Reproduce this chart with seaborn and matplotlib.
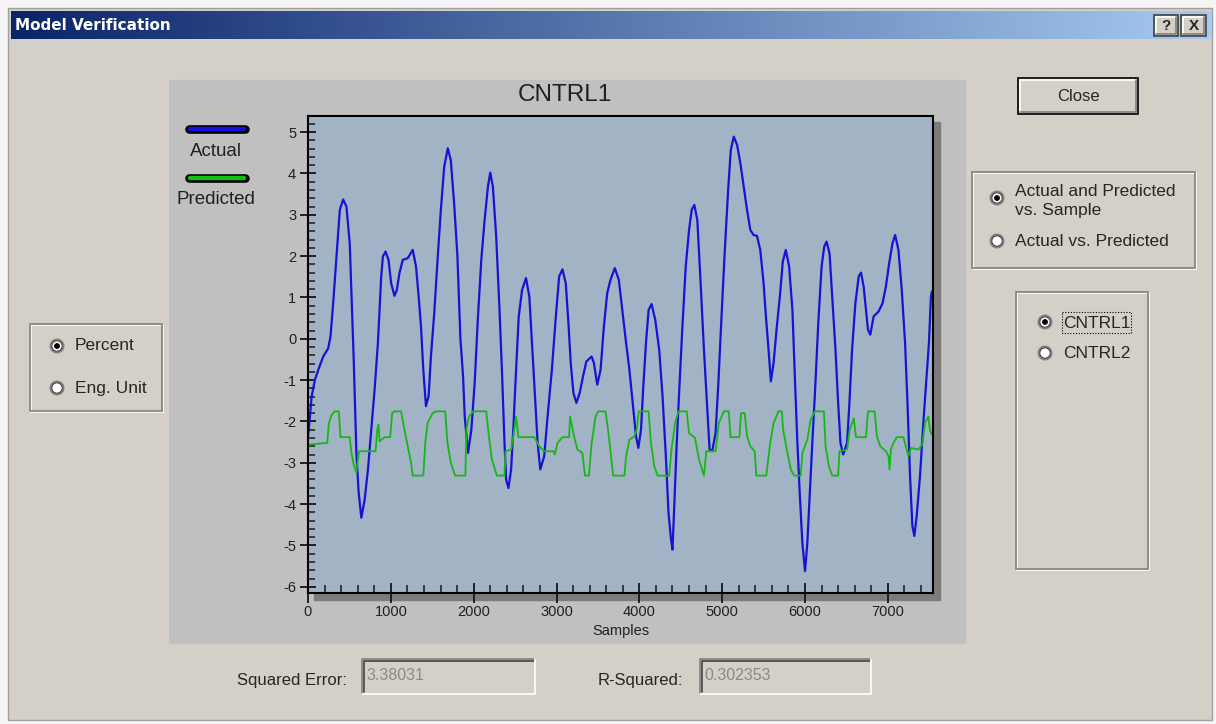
import matplotlib
matplotlib.use("Agg")
import numpy as np
import pandas as pd
import matplotlib.pyplot as plt
import seaborn as sns
from matplotlib.patches import Rectangle, Circle

# values (sample index, value)
actual_samples = [0, 12, 44, 84, 124, 184, 244, 272, 304, 344, 384, 424, 464, 504, 532, 552, 584, 612, 644, 684,
                  724, 764, 804, 844, 864, 884, 904, 936, 972, 1004, 1044, 1072, 1104, 1144, 1204, 1264, 1304, 1336,
                  1364, 1392, 1424, 1456, 1484, 1524, 1564, 1604, 1644, 1688, 1724, 1764, 1804, 1840, 1872, 1892,
                  1932, 1972, 2012, 2052, 2092, 2132, 2172, 2200, 2232, 2272, 2312, 2344, 2372, 2392, 2420, 2452,
                  2480, 2512, 2544, 2584, 2632, 2672, 2704, 2744, 2772, 2804, 2852, 2892, 2944, 2992, 3032, 3072,
                  3112, 3144, 3172, 3204, 3240, 3280, 3320, 3360, 3424, 3452, 3492, 3532, 3572, 3612, 3652, 3704,
                  3752, 3800, 3840, 3880, 3920, 3960, 3988, 4020, 4048, 4080, 4112, 4148, 4192, 4240, 4280, 4320,
                  4352, 4380, 4400, 4420, 4448, 4480, 4520, 4560, 4600, 4632, 4664, 4700, 4740, 4780, 4820, 4848,
                  4880, 4920, 4952, 4992, 5032, 5072, 5104, 5140, 5180, 5220, 5260, 5300, 5340, 5380, 5420, 5460,
                  5500, 5528, 5560, 5588, 5620, 5660, 5700, 5732, 5768, 5808, 5848, 5880, 5908, 5936, 5968, 6000,
                  6028, 6056, 6088, 6120, 6160, 6200, 6232, 6260, 6296, 6328, 6368, 6400, 6428, 6460, 6508, 6536,
                  6568, 6608, 6648, 6676, 6708, 6736, 6760, 6788, 6828, 6888, 6936, 6976, 7016, 7056, 7088, 7128,
                  7168, 7208, 7240, 7268, 7296, 7320, 7348, 7388, 7428, 7468, 7496, 7520, 7530]
actual_values = [-2.35, -2.16, -1.39, -0.99, -0.75, -0.43, -0.23, 0.06, 0.86, 1.99, 3.12, 3.37, 3.20, 2.31, 0.70,
                 -0.51, -2.76, -3.73, -4.33, -3.89, -3.16, -2.20, -1.23, -0.10, 0.70, 1.51, 1.99, 2.11, 1.91, 1.34,
                 1.04, 1.18, 1.59, 1.91, 1.95, 2.15, 1.75, 1.02, 0.30, -0.75, -1.63, -1.39, -0.43, 0.62, 1.91, 3.12,
                 4.16, 4.61, 4.32, 3.28, 1.99, 0.00, -0.91, -1.88, -2.76, -2.20, -1.07, 0.54, 1.91, 2.87, 3.68, 4.02,
                 3.68, 2.47, 0.70, -0.91, -2.52, -3.41, -3.61, -3.16, -2.12, -0.75, 0.54, 1.18, 1.47, 1.02, -0.10,
                 -1.55, -2.52, -3.16, -2.84, -1.88, -0.75, 0.54, 1.51, 1.68, 1.34, 0.38, -0.59, -1.31, -1.55, -1.31,
                 -0.91, -0.55, -0.43, -0.59, -1.11, -0.75, 0.30, 1.10, 1.43, 1.71, 1.43, 0.60, -0.10, -0.75, -1.55,
                 -2.36, -2.64, -2.20, -1.15, -0.10, 0.70, 0.84, 0.46, -0.27, -1.39, -2.84, -4.21, -4.81, -5.10,
                 -4.13, -2.68, -1.31, 0.30, 1.75, 2.63, 3.12, 3.24, 2.87, 1.34, -0.27, -1.71, -2.68, -2.72, -2.28,
                 -1.15, 0.54, 2.15, 3.60, 4.57, 4.89, 4.69, 4.24, 3.68, 3.12, 2.63, 2.51, 2.49, 2.15, 1.34, 0.54,
                 -0.27, -1.03, -0.59, 0.30, 1.10, 1.87, 2.15, 1.75, 0.70, -1.07, -2.52, -3.73, -4.94, -5.62, -4.94,
                 -3.81, -2.52, -1.31, 0.38, 1.75, 2.23, 2.35, 2.07, 1.02, -0.27, -1.55, -2.52, -2.80, -2.52, -1.55,
                 -0.27, 0.86, 1.51, 1.60, 1.26, 0.70, 0.22, 0.10, 0.54, 0.66, 0.86, 1.26, 1.83, 2.31, 2.51, 2.15,
                 1.18, -0.10, -1.71, -3.33, -4.53, -4.77, -4.29, -3.33, -2.04, -0.91, -0.10, 1.02, 1.14]

pred_samples = [0, 232, 252, 284, 324, 372, 392, 504, 524, 552, 584, 616, 816, 836, 852, 864, 924, 992, 1016, 1044,
                1124, 1164, 1204, 1244, 1264, 1392, 1416, 1444, 1504, 1544, 1656, 1684, 1724, 1776, 1900, 1912,
                1944, 1992, 2152, 2184, 2220, 2280, 2372, 2384, 2452, 2472, 2512, 2540, 2732, 2792, 2852, 2964,
                2980, 3012, 3072, 3152, 3164, 3212, 3252, 3312, 3344, 3392, 3424, 3472, 3504, 3592, 3632, 3684,
                3820, 3840, 3880, 3940, 3968, 3992, 4112, 4140, 4180, 4220, 4360, 4388, 4432, 4472, 4572, 4600,
                4672, 4720, 4780, 4808, 4920, 4960, 5020, 5080, 5100, 5208, 5228, 5272, 5300, 5340, 5392, 5412,
                5532, 5580, 5620, 5680, 5720, 5736, 5788, 5828, 5868, 5948, 5968, 6028, 6068, 6120, 6228, 6248,
                6288, 6328, 6400, 6416, 6508, 6540, 6588, 6616, 6736, 6760, 6840, 6868, 6908, 6976, 7008, 7020,
                7036, 7068, 7108, 7188, 7228, 7248, 7280, 7368, 7416, 7448, 7488, 7508, 7530]
pred_values = [-2.56, -2.52, -2.04, -1.84, -1.755, -1.755, -2.38, -2.38, -2.76, -3.04, -3.24, -2.72, -2.72, -2.20,
               -2.08, -2.48, -2.38, -2.38, -1.80, -1.755, -1.755, -2.20, -2.60, -3.00, -3.31, -3.31, -2.52, -2.04,
               -1.80, -1.755, -1.755, -2.52, -3.00, -3.31, -3.31, -2.20, -1.88, -1.755, -1.755, -2.36, -2.92, -3.31,
               -3.31, -2.72, -2.68, -2.44, -1.88, -2.38, -2.38, -2.60, -2.72, -2.72, -2.80, -2.52, -2.38, -2.38,
               -1.88, -2.36, -2.68, -2.76, -3.31, -3.31, -2.52, -1.88, -1.755, -1.755, -2.36, -3.31, -3.31, -2.84,
               -2.44, -2.36, -2.20, -1.755, -1.755, -2.52, -3.08, -3.31, -3.31, -2.68, -2.04, -1.755, -1.755, -2.28,
               -2.40, -2.92, -3.31, -2.72, -2.72, -2.04, -1.755, -1.755, -2.38, -2.38, -1.80, -1.80, -2.36, -2.60,
               -2.72, -3.31, -3.31, -2.52, -2.04, -1.755, -1.755, -2.20, -2.76, -3.16, -3.31, -3.31, -2.76, -2.44,
               -1.96, -1.755, -1.755, -2.60, -3.08, -3.31, -3.31, -2.72, -2.68, -2.20, -1.92, -2.38, -2.38, -1.755,
               -1.755, -2.36, -2.60, -2.72, -2.84, -3.16, -2.68, -2.52, -2.38, -2.38, -2.68, -2.84, -2.64, -2.68,
               -2.56, -2.04, -1.88, -2.20, -2.32]

x_ticks = [0, 1000, 2000, 3000, 4000, 5000, 6000, 7000]
y_ticks = [-6, -5, -4, -3, -2, -1, 0, 1, 2, 3, 4, 5]
chart_title = "CNTRL1"
squared_error = "3.38031"
r_squared = "0.302353"

sns.set_style("white")
plt.rcParams['font.family'] = ['Liberation Sans', 'DejaVu Sans']
plt.rcParams['axes.unicode_minus'] = False

W, H = 1216, 724
fig = plt.figure(figsize=(W / 100, H / 100), dpi=100)
fig.patch.set_facecolor('#d4d0c8')

# full-figure axes in pixel coordinates for the dialog chrome
bg = fig.add_axes([0, 0, 1, 1], zorder=0)
bg.set_xlim(0, W)
bg.set_ylim(H, 0)
bg.axis('off')

DLG = '#d4d0c8'
bg.add_patch(Rectangle((0, 0), W, H, color='#f4f4f4'))
bg.add_patch(Rectangle((8, 8), W - 12, H - 12, facecolor=DLG, edgecolor='#a0a0a0', lw=1))

# title bar gradient
grad = np.linspace(0, 1, 256)[None, :]
c0, c1 = np.array([10, 36, 106]) / 255, np.array([166, 202, 240]) / 255
grad_img = c0[None, None, :] * (1 - grad[..., None]) + c1[None, None, :] * grad[..., None]
bg.imshow(grad_img, extent=(11, 1212, 39, 11), aspect='auto', zorder=1)
bg.text(15, 25.5, "Model Verification", color='white', fontsize=11, fontweight='bold',
        va='center', ha='left', family='DejaVu Sans', zorder=2)


def button(x0, y0, x1, y1, label, fs, weight='normal', black=False):
    bg.add_patch(Rectangle((x0, y0), x1 - x0, y1 - y0, facecolor=DLG,
                           edgecolor='black' if black else '#404040', lw=1.2, zorder=2))
    bg.plot([x0 + 1.5, x0 + 1.5, x1 - 2], [y1 - 2, y0 + 1.5, y0 + 1.5], color='white', lw=1.2, zorder=3)
    bg.plot([x0 + 2, x1 - 2, x1 - 2], [y1 - 2, y1 - 2, y0 + 2], color='#808080', lw=1.2, zorder=3)
    bg.text((x0 + x1) / 2, (y0 + y1) / 2 + 0.5, label, ha='center', va='center', fontsize=fs,
            fontweight=weight, zorder=4)


button(1154, 15, 1178, 36, "?", 11, 'bold')
button(1181, 15, 1206, 36, "X", 11, 'bold')
button(1018, 78, 1138, 114, "Close", 12, black=True)


def group_box(x0, y0, x1, y1):
    bg.add_patch(Rectangle((x0 + 1, y0 + 1), x1 - x0, y1 - y0, fill=False, edgecolor='white', lw=1.2, zorder=2))
    bg.add_patch(Rectangle((x0, y0), x1 - x0, y1 - y0, fill=False, edgecolor='#808080', lw=1.2, zorder=3))


def radio(x, y, label, selected, dy_text=0):
    bg.add_patch(Circle((x, y), 6.5, facecolor='white', edgecolor='#808080', lw=1.4, zorder=3))
    bg.add_patch(Circle((x, y), 5.2, fill=False, edgecolor='#404040', lw=0.8, zorder=4))
    if selected:
        bg.add_patch(Circle((x, y), 2.2, color='black', zorder=5))
    bg.text(x + 18, y + dy_text, label, ha='left', va='center', fontsize=12.5, zorder=5, linespacing=1.3)


group_box(30, 324, 162, 411)
radio(57, 346, "Percent", True)
radio(57, 388, "Eng. Unit", False)

group_box(972, 172, 1195, 268)
radio(997, 198, "Actual and Predicted\nvs. Sample", True, dy_text=3)
radio(997, 241, "Actual vs. Predicted", False)

group_box(1016, 292, 1148, 569)
radio(1045, 322, "CNTRL1", True, dy_text=1)
radio(1045, 353, "CNTRL2", False)
bg.add_patch(Rectangle((1062, 312), 69, 21, fill=False, edgecolor='black', lw=0.8, ls=(0, (1, 1.5)), zorder=5))

# chart panel and shadow behind the plot frame
bg.add_patch(Rectangle((169, 80), 796, 563, color='#c0c0c0', zorder=1))
bg.add_patch(Rectangle((314, 122), 626, 478, color='#7c7c7c', zorder=2))
bg.text(565, 95, chart_title, ha='center', va='center', fontsize=17.5, color='#202020', zorder=3)

# legend drawn in the panel
for yy, col, lab, ly in [(128.5, '#1010d8', "Actual", 152), (177.5, '#10c010', "Predicted", 200)]:
    bg.plot([189, 245], [yy, yy], color='black', lw=6.2, solid_capstyle='round', zorder=3)
    bg.plot([190, 244], [yy, yy], color=col, lw=3.2, solid_capstyle='round', zorder=4)
    bg.text(216, ly, lab, ha='center', va='center', fontsize=13.5, color='#202020', zorder=4)

# bottom read-outs
for lx, label, bx0, bx1, val in [(347, "Squared Error:", 362, 535, squared_error),
                                 (683, "R-Squared:", 700, 871, r_squared)]:
    bg.text(lx, 680, label, ha='right', va='center', fontsize=12, zorder=3)
    bg.add_patch(Rectangle((bx0, 659), bx1 - bx0, 35, facecolor=DLG, edgecolor='none', zorder=2))
    bg.plot([bx0, bx0, bx1], [694, 659, 659], color='#808080', lw=1.2, zorder=3)
    bg.plot([bx0 + 1.5, bx0 + 1.5, bx1 - 1.5], [692, 660.5, 660.5], color='#404040', lw=1.2, zorder=3)
    bg.plot([bx0, bx1, bx1], [694, 694, 659], color='white', lw=1.2, zorder=3)
    bg.text(bx0 + 4, 675, val, ha='left', va='center', fontsize=11.5, color='#8a8a8a', zorder=3)

# the plot itself
ax = fig.add_axes([308 / W, 1 - 593 / H, 625 / W, 477 / H], zorder=1)
ax.set_facecolor('#a1b3c4')
actual_df = pd.DataFrame({'Samples': actual_samples, 'value': actual_values})
pred_df = pd.DataFrame({'Samples': pred_samples, 'value': pred_values})
sns.lineplot(data=actual_df, x='Samples', y='value', ax=ax, color='#1414d4', lw=1.6,
             estimator=None, sort=False)
sns.lineplot(data=pred_df, x='Samples', y='value', ax=ax, color='#16b816', lw=1.3,
             estimator=None, sort=False)

ax.set_xlim(0, 7545)
ax.set_ylim(-6.15, 5.39)
ax.set_xticks(x_ticks)
ax.set_yticks(y_ticks)
ax.set_xticks(np.arange(0, 7545, 200), minor=True)
ax.set_yticks(np.arange(-6, 5.3, 0.2), minor=True)
ax.set_ylabel("")
ax.set_xlabel("Samples", fontsize=10.5, labelpad=3, color='#202020')
ax.tick_params(axis='x', which='major', direction='inout', length=14, width=1.4, pad=2,
               labelsize=10.5, colors='#202020')
ax.tick_params(axis='y', which='major', direction='inout', length=11, width=1.4, pad=3,
               labelsize=10.5, colors='#202020')
ax.tick_params(axis='x', which='minor', direction='in', length=5.5, width=1.2)
ax.tick_params(axis='y', which='minor', direction='in', length=4.8, width=1.2)
ax.tick_params(which='both', bottom=True, left=True, top=False, right=False)
for s in ax.spines.values():
    s.set_color('black')
    s.set_linewidth(1.5)
    s.set_visible(True)

fig.savefig("out.png", dpi=100, facecolor=fig.get_facecolor())
